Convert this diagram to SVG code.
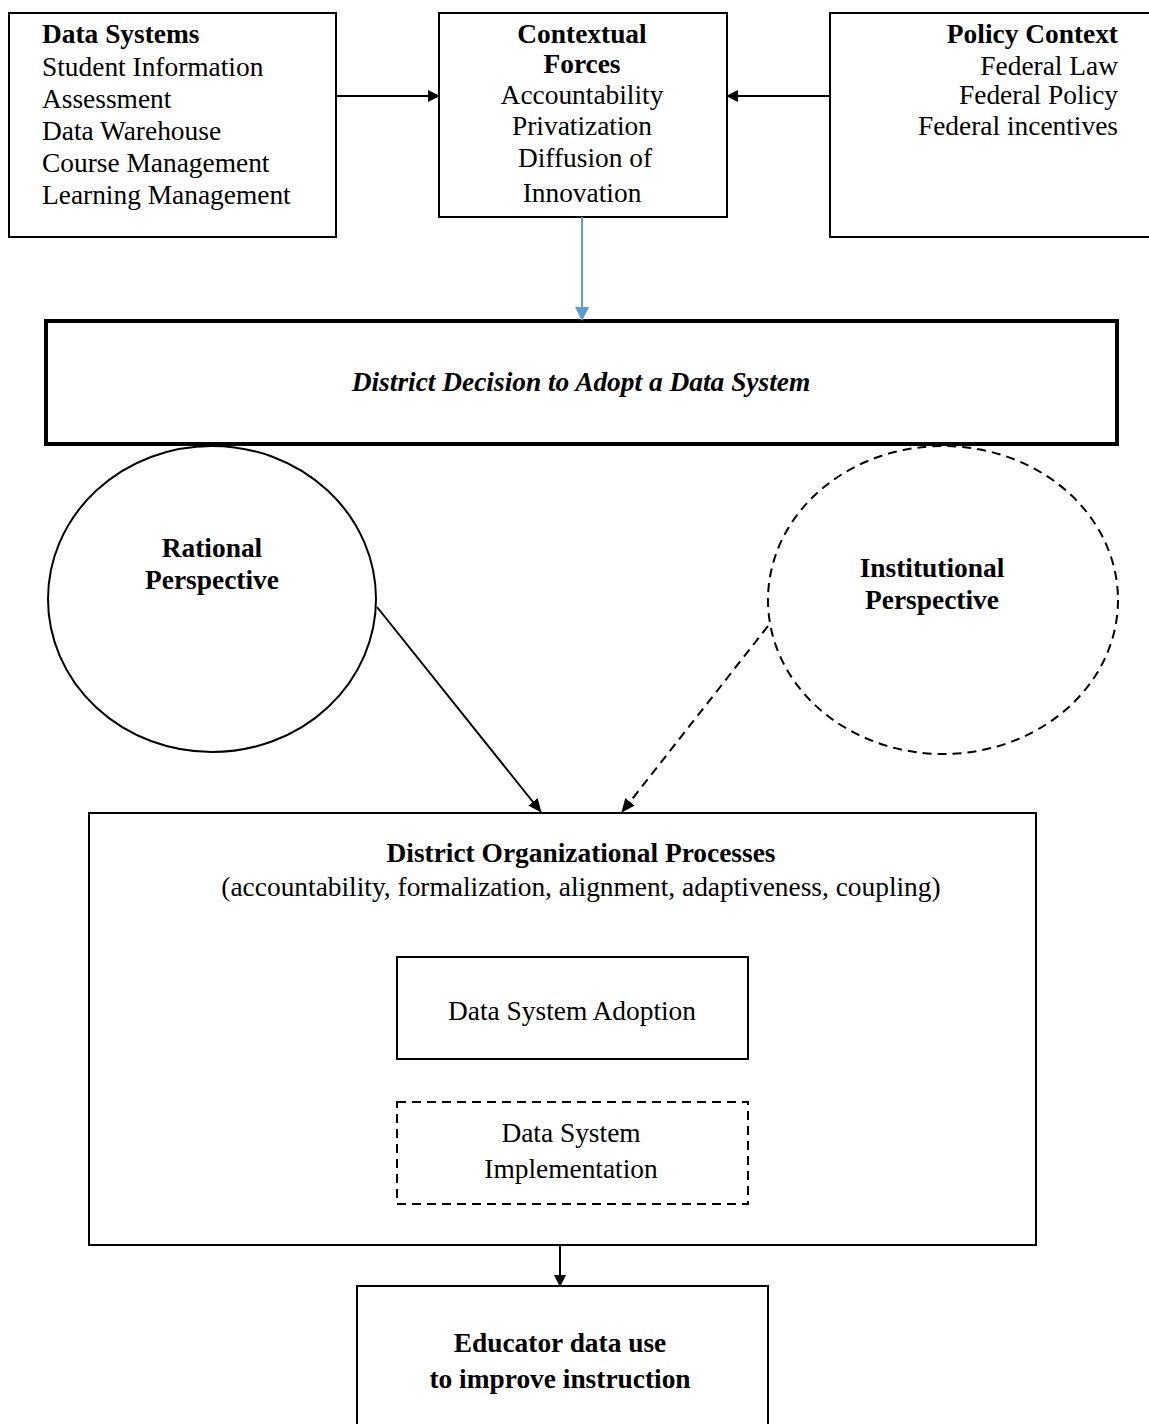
<svg xmlns="http://www.w3.org/2000/svg" width="1149" height="1424" viewBox="0 0 1149 1424">
<style>
text{font-family:"Liberation Serif","Times New Roman",serif;font-size:27.4px;fill:#000}
.b{font-weight:bold}
.c{text-anchor:middle}
.r{text-anchor:end}
.box{fill:#fff;stroke:#000;stroke-width:2}
.dash{stroke-dasharray:9 6}
.ln{stroke:#000;stroke-width:2;fill:none}
</style>
<defs>
<marker id="ah" markerWidth="12" markerHeight="12" refX="11" refY="6" orient="auto" markerUnits="userSpaceOnUse"><path d="M0,0 L12,6 L0,12 Z" fill="#000"/></marker>
<marker id="ahs" markerWidth="14" markerHeight="12" refX="13" refY="6" orient="auto" markerUnits="userSpaceOnUse"><path d="M0,0 L14,6 L0,12 Z" fill="#000"/></marker>
<marker id="ahb" markerWidth="14" markerHeight="14" refX="13" refY="7" orient="auto" markerUnits="userSpaceOnUse"><path d="M0,0 L14,7 L0,14 Z" fill="#5b9bd5"/></marker>
</defs>
<rect width="1149" height="1424" fill="#fff"/>
<g id="data-systems">
<rect class="box" x="9" y="13" width="327" height="224"/>
<text x="42" y="43" class="b">Data Systems</text>
<text x="42" y="76">Student Information</text>
<text x="42" y="108">Assessment</text>
<text x="42" y="140">Data Warehouse</text>
<text x="42" y="172">Course Management</text>
<text x="42" y="204">Learning Management</text>
</g>
<g id="contextual-forces">
<rect class="box" x="439" y="13" width="288" height="204"/>
<text x="582" y="43" class="b c">Contextual</text>
<text x="582" y="73" class="b c">Forces</text>
<text x="582" y="104" class="c">Accountability</text>
<text x="582" y="135" class="c">Privatization</text>
<text x="585" y="167" class="c">Diffusion of</text>
<text x="582" y="202" class="c">Innovation</text>
</g>
<g id="policy-context">
<rect class="box" x="830" y="13" width="325" height="224"/>
<text x="1118" y="43" class="b r">Policy Context</text>
<text x="1118" y="75" class="r">Federal Law</text>
<text x="1118" y="104" class="r">Federal Policy</text>
<text x="1118" y="135" class="r">Federal incentives</text>
</g>
<g id="district-decision">
<rect x="46" y="321" width="1071" height="123" fill="#fff" stroke="#000" stroke-width="4"/>
<text x="581" y="391" class="b c" font-style="italic">District Decision to Adopt a Data System</text>
</g>
<g id="rational-perspective">
<ellipse cx="212" cy="599" rx="164" ry="153" fill="#fff" stroke="#000" stroke-width="2"/>
<text x="212" y="557" class="b c">Rational</text>
<text x="212" y="589" class="b c">Perspective</text>
</g>
<g id="institutional-perspective">
<ellipse cx="943" cy="600" rx="175" ry="154" fill="#fff" stroke="#000" stroke-width="2" class="dash"/>
<text x="932" y="577" class="b c">Institutional</text>
<text x="932" y="609" class="b c">Perspective</text>
</g>
<g id="district-org-processes">
<rect class="box" x="89" y="813" width="947" height="432"/>
<text x="581" y="862" class="b c">District Organizational Processes</text>
<text x="581" y="896" class="c">(accountability, formalization, alignment, adaptiveness, coupling)</text>
</g>
<g id="data-system-adoption">
<rect class="box" x="397" y="957" width="351" height="102"/>
<text x="572" y="1020" class="c">Data System Adoption</text>
</g>
<g id="data-system-implementation">
<rect class="box dash" x="397" y="1102" width="351" height="102"/>
<text x="571" y="1142" class="c">Data System</text>
<text x="571" y="1178" class="c">Implementation</text>
</g>
<g id="educator-data-use">
<rect class="box" x="357" y="1286" width="411" height="145"/>
<text x="560" y="1352" class="b c">Educator data use</text>
<text x="560" y="1388" class="b c">to improve instruction</text>
</g>
<g id="connectors">
<line class="ln" x1="336" y1="96" x2="439" y2="96" marker-end="url(#ah)"/>
<line class="ln" x1="830" y1="96" x2="727" y2="96" marker-end="url(#ah)"/>
<line x1="582" y1="217" x2="582" y2="320" stroke="#5b9bd5" stroke-width="2" marker-end="url(#ahb)"/>
<line class="ln" x1="377" y1="607" x2="541" y2="812" marker-end="url(#ahs)"/>
<line class="ln dash" x1="768" y1="626" x2="622" y2="812" marker-end="url(#ahs)"/>
<line class="ln" x1="560" y1="1245" x2="560" y2="1286" marker-end="url(#ah)"/>
</g>
</svg>
